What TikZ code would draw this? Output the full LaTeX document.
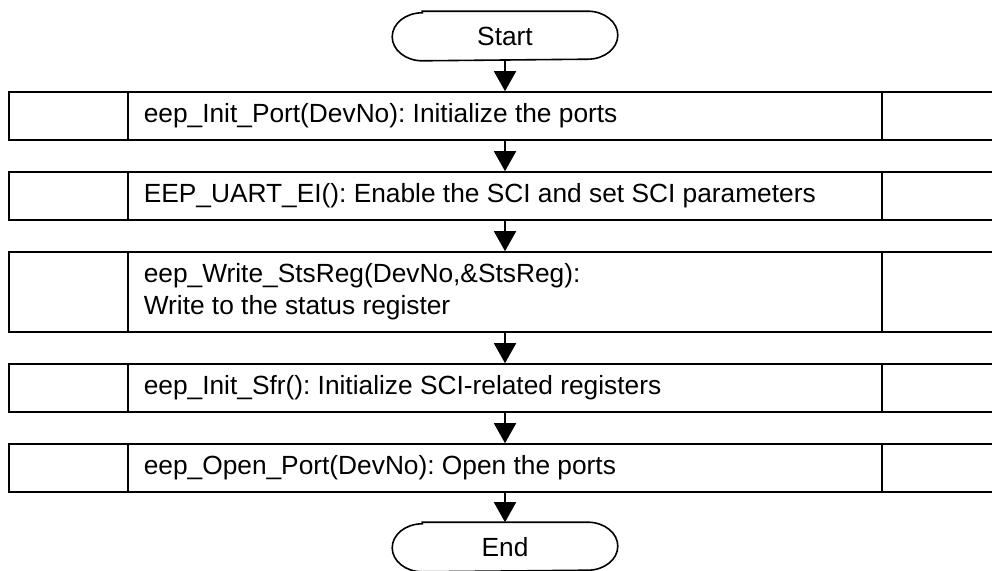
\documentclass[tikz,border=0pt]{standalone}
\usepackage{fontspec}
\setmainfont{Liberation Sans}
\usetikzlibrary{arrows.meta}
\frenchspacing
\begin{document}
\begin{tikzpicture}[x=1pt,y=1pt,
  line width=1.6pt,
  txt/.style={font=\fontsize{26.3}{32}\selectfont},
  procbox/.style={draw, rectangle, minimum width=992pt, inner sep=0pt},
  termnode/.style={rectangle, minimum width=224pt, minimum height=48pt, inner sep=0pt, txt},
  lbl/.style={anchor=west, inner sep=0pt, align=left, txt},
  arr/.style={-{Triangle[width=22pt,length=20pt]}, line width=1.6pt}]
\path[use as bounding box, clip] (0,0) rectangle (992,-570);

% terminals: stadium outline with elliptical ends
\newcommand{\termoutline}[1]{%
  \draw ([xshift=30pt]#1.north west) -- ([xshift=-30pt]#1.north east)
    arc[start angle=90, end angle=-90, x radius=30pt, y radius=24pt]
    -- ([xshift=30pt]#1.south west)
    arc[start angle=270, end angle=90, x radius=30pt, y radius=24pt] -- cycle;}

\node[termnode] (start) at (505,-36) {Start};
\termoutline{start}

% process boxes
\node[procbox, minimum height=48pt] (b1) at (505,-116) {};
\node[procbox, minimum height=48pt] (b2) at (505,-196) {};
\node[procbox, minimum height=80pt] (b3) at (505,-292) {};
\node[procbox, minimum height=48pt] (b4) at (505,-388) {};
\node[procbox, minimum height=48pt] (b5) at (505,-468) {};

% side columns of each process box
\foreach \b in {b1,b2,b3,b4,b5}{
  \draw ([xshift=120pt]\b.north west) -- ([xshift=120pt]\b.south west);
  \draw ([xshift=-120pt]\b.north east) -- ([xshift=-120pt]\b.south east);
}

\node[lbl] (t1) at (143,-116) {eep\_Init\_Port(DevNo): Initialize the ports};
\node[lbl] (t2) at (143,-196) {EEP\_UART\_EI(): Enable the SCI and set SCI parameters};
\node[lbl] (t3) at (143,-292) {eep\_Write\_StsReg(DevNo,\&StsReg):\\Write to the status register};
\node[lbl] (t4) at (143,-388) {eep\_Init\_Sfr(): Initialize SCI-related registers};
\node[lbl] (t5) at (143,-468) {eep\_Open\_Port(DevNo): Open the ports};

\node[termnode] (end) at (505,-547) {End};
\termoutline{end}

% flow
\draw[arr] (start.south) -- (b1.north);
\draw[arr] (b1.south) -- (b2.north);
\draw[arr] (b2.south) -- (b3.north);
\draw[arr] (b3.south) -- (b4.north);
\draw[arr] (b4.south) -- (b5.north);
\draw[arr] (b5.south) -- (end.north);
\end{tikzpicture}
\end{document}
